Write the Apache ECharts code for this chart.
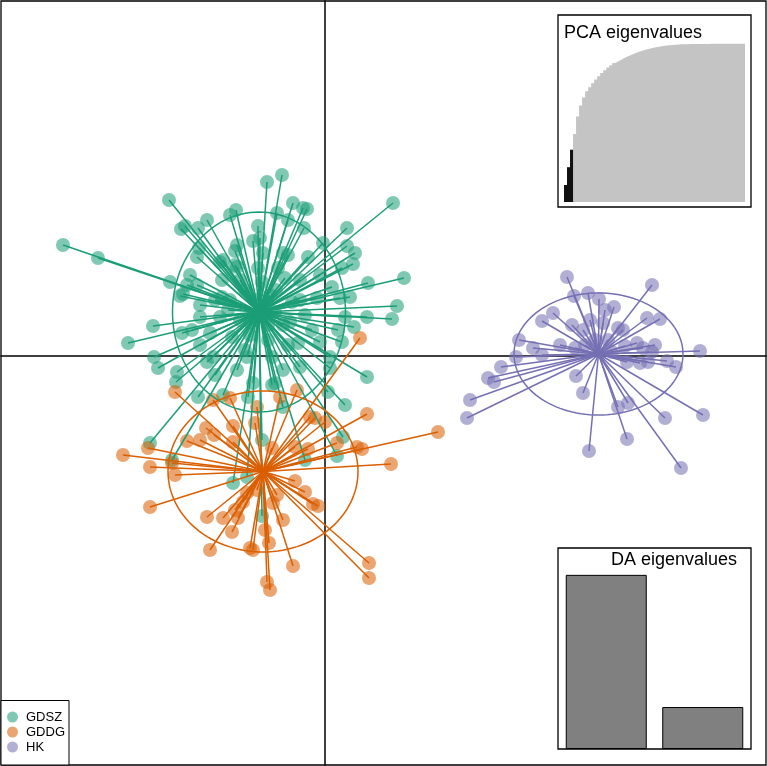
<!DOCTYPE html>
<html><head><meta charset="utf-8">
<script src="https://cdn.jsdelivr.net/npm/echarts@6/dist/echarts.min.js"></script>
<style>html,body{margin:0;padding:0;background:#fff}#c{width:767px;height:766px}</style>
</head><body><div id="c"></div>
<script>
// ---------- DATA ----------
const groups = ['GDSZ', 'GDDG', 'HK'];
// discriminant scores [LD1, LD2]
const gdsz = [
[-5.24,2.22],[-4.54,1.96],[-3.12,3.12],[-2.88,2.54],[-2.80,2.60],[-2.36,2.72],[-2.54,2.56],[-1.78,2.92],[-1.90,2.82],[-2.52,2.16],
[-2.56,1.98],[-2.04,1.92],[-1.76,2.22],[-3.10,1.48],[-2.70,1.62],[-2.76,1.42],[-2.56,1.42],[-2.84,1.24],[-1.76,1.78],[-1.80,2.10],
[-1.16,3.48],[-0.86,3.62],[1.36,3.06],[-1.34,2.60],[-0.96,2.86],[-0.64,3.06],[-0.44,2.96],[-0.36,2.94],[-0.42,2.56],[0.44,2.56],
[-0.04,2.26],[-1.44,2.30],[-1.30,2.36],[0.44,2.20],[0.60,2.06],[0.56,1.84],[0.34,1.76],[0.86,1.46],[1.58,1.56],[0.14,1.38],
[-0.34,1.98],[-0.84,2.06],[-2.10,1.88],[-0.10,1.62],[-0.74,2.72],[1.44,1.00],[1.34,0.74],[0.84,0.78],[0.40,0.78],[0.58,0.58],
[0.26,0.52],[0.34,0.28],[-0.10,0.28],[0.84,-0.42],[0.10,-0.02],[0.10,-0.24],[0.40,-0.98],[0.06,-0.72],[-0.54,0.26],[-0.50,-0.22],
[-0.84,-0.28],[-1.00,-0.54],[0.30,1.16],[0.50,1.18],[-3.94,0.26],[-3.44,0.60],[-2.86,0.46],[-2.66,0.52],[-2.90,1.20],[-2.50,1.02],
[-2.50,0.78],[-2.10,0.78],[-3.42,-0.02],[-3.34,-0.24],[-2.96,-0.32],[-2.98,-0.52],[-2.50,0.22],[-2.30,0.46],[-2.36,-0.12],[-2.24,-0.02],
[-2.20,-0.38],[-1.76,-0.28],[-1.56,-0.02],[-2.54,-0.82],[-1.24,2.06],[-1.80,1.82],[-0.74,2.02],[-2.06,1.52],[-0.50,1.52],[-0.16,1.16],
[-0.80,1.56],[-3.50,-1.74],[-3.06,-2.08],[-1.84,-2.54],[-1.26,-3.20],[-1.26,-1.68],[-1.54,-0.82],[-1.44,-0.54],[-2.04,-0.78],[-0.84,-1.02],
[-1.06,-0.58],[0.36,-1.62],[0.24,-2.00],[-0.40,-2.08],[-1.56,-2.42],
[-1.60,1.32],[-1.10,1.22],[-1.40,1.12],[-1.00,0.88],[-1.70,0.72],[-1.50,0.42],[-1.14,0.32],[-0.84,0.62],[-1.90,1.12],[-0.66,1.08],
[-1.26,1.48],[-1.60,0.12],[-1.06,-0.02],[-0.74,0.22],[-1.86,0.38],[-0.40,0.82],[-0.26,0.52],[-2.06,1.18],[-1.34,1.76],[-0.94,1.76],
[-1.94,0.92],[-1.50,0.68],[-0.70,0.68],[-1.14,0.62],[-1.70,1.52],[-0.50,1.12],[-2.20,1.12],[-0.98,1.32]
];
const gddg = [
[-3.00,-0.72],[-2.24,-0.88],[-1.90,-0.84],[-2.38,-1.44],[-2.22,-1.58],[-1.84,-1.40],[-1.84,-1.72],[-2.50,-1.68],[-2.76,-1.70],[-3.54,-1.84],
[-4.04,-1.98],[-3.50,-2.22],[-3.06,-2.14],[-3.00,-2.38],[-3.50,-3.02],[-2.36,-3.22],[-2.04,-3.24],[-1.74,-3.24],[-1.80,-3.08],[-1.64,-2.92],
[-1.56,-2.74],[-1.86,-3.52],[-2.30,-3.88],[-1.50,-3.84],[-1.44,-3.88],[-1.20,-3.48],[-1.12,-3.74],[-1.16,-4.52],[-1.10,-4.68],[-0.84,-3.28],
[-0.64,-4.20],[-0.60,-2.50],[-0.40,-2.72],[-0.24,-2.96],[-0.14,-3.00],[1.32,-2.16],[2.26,-1.52],[0.70,0.36],[0.84,-1.16],[-0.56,-0.68],
[-0.30,-1.22],[-0.20,-1.24],[0.00,-1.32],[0.24,-1.74],[0.64,-1.82],[0.74,-1.86],[-0.60,-1.82],[-0.34,-1.86],[0.88,-4.14],[0.88,-4.44],
[-1.40,-1.34],[-1.36,-1.02],[-1.06,-1.84],[-1.36,-2.68],[-1.04,-2.94],[-0.96,-2.78],[-0.90,-0.82]
];
const hk = [
[4.84,1.58],[4.98,1.20],[5.26,1.26],[4.56,0.86],[4.34,0.70],[4.94,0.62],[5.16,0.52],[3.88,0.32],[4.16,0.16],[4.34,0.02],
[3.82,-0.02],[3.52,-0.22],[3.26,-0.44],[3.38,-0.52],[2.90,-0.88],[2.84,-1.24],[5.02,-0.40],[5.16,-0.74],[5.28,-1.90],[5.00,0.16],
[6.54,1.42],[5.48,1.14],[5.78,0.98],[6.44,0.76],[6.70,0.74],[5.56,0.66],[5.86,0.56],[5.96,0.52],[6.00,0.20],[6.24,0.26],
[6.36,0.16],[6.60,0.22],[6.54,0.08],[7.50,0.10],[6.04,-0.12],[6.30,-0.14],[6.46,-0.12],[6.84,-0.10],[7.02,-0.22],[5.86,-1.02],
[6.06,-0.94],[6.80,-1.24],[7.56,-1.18],[6.04,-1.66],[7.12,-2.24],[5.30,0.72],[5.66,0.32],[5.20,0.22],[5.74,0.08],[5.40,0.32],
[4.70,0.22],[5.60,0.92]
];
// group centres and ellipse half-axes (LD units)
const centerLD1 = [-1.32, -1.24, 5.47];
const centerLD2 = [0.88, -2.31, 0.04];
const ellipseR1 = [1.73, 1.90, 1.69];
const ellipseR2 = [2.00, 1.61, 1.22];
// PCA cumulative variance (%) and number of retained PCs
const pcaCumVar = [10.8,22,33,43,54,61,66,70,72.5,75,77.5,79.5,81.5,83.3,85,86.5,87.8,89,90,91,
92,92.8,93.6,94.3,95,95.6,96.2,96.7,97.2,97.6,98,98.3,98.6,98.9,99.1,99.3,99.45,99.55,99.65,99.72,
99.78,99.83,99.87,99.9,99.92,99.94,99.95,99.96,99.97,99.98,99.985,99.99,99.99,99.995,100,100,100,100,100,100];
const nPcaRetained = 3;
// DA eigenvalues
const daEig = [4.15, 1.0];

// ---------- STYLE ----------
const lineCols = ['#1b9e77', '#d95f02', '#7570b3'];
const pointCols = ['rgba(27,158,119,0.7)', 'rgba(217,95,2,0.7)', 'rgba(117,112,179,0.7)'];
const FONT = '"Liberation Sans", Arial, Helvetica, sans-serif';
const groupData = [gdsz, gddg, hk];

const series = [];
groupData.forEach((d, g) => {
  series.push({
    name: groups[g], type: 'scatter', xAxisIndex: 0, yAxisIndex: 0,
    data: d, symbol: 'circle', symbolSize: 14, z: 2,
    itemStyle: { color: pointCols[g], borderWidth: 0 }, silent: true
  });
});
groupData.forEach((d, g) => {
  series.push({
    name: groups[g] + ' star', type: 'lines', coordinateSystem: 'cartesian2d',
    xAxisIndex: 0, yAxisIndex: 0, z: 3, silent: true,
    data: d.map(p => ({ coords: [[centerLD1[g], centerLD2[g]], p] })),
    lineStyle: { color: lineCols[g], width: 1.5, opacity: 1, curveness: 0 }
  });
});
groupData.forEach((d, g) => {
  const pts = [];
  for (let i = 0; i <= 120; i++) {
    const t = i / 120 * Math.PI * 2;
    pts.push([centerLD1[g] + ellipseR1[g] * Math.cos(t), centerLD2[g] + ellipseR2[g] * Math.sin(t)]);
  }
  series.push({
    name: groups[g] + ' ellipse', type: 'line', xAxisIndex: 0, yAxisIndex: 0, z: 3,
    data: pts, showSymbol: false, symbol: 'none', silent: true,
    lineStyle: { color: lineCols[g], width: 1.5 }
  });
});
// PCA cumulative barplot drawn as contiguous step areas (bar i spans [i, i+1])
function stepData(vals) {
  const out = vals.map((v, i) => [i, v]);
  out.push([vals.length, vals[vals.length - 1]]);
  return out;
}
series.push({
  type: 'line', xAxisIndex: 2, yAxisIndex: 2, step: 'end', silent: true, z: 2,
  data: stepData(pcaCumVar), showSymbol: false, symbol: 'none',
  lineStyle: { width: 0, opacity: 0 }, areaStyle: { color: '#c4c4c4', opacity: 1, origin: 'start' }
});
series.push({
  type: 'line', xAxisIndex: 2, yAxisIndex: 2, step: 'end', silent: true, z: 3,
  data: stepData(pcaCumVar.slice(0, nPcaRetained)), showSymbol: false, symbol: 'none',
  lineStyle: { width: 0, opacity: 0 }, areaStyle: { color: '#111', opacity: 1, origin: 'start' }
});
series.push({
  type: 'bar', xAxisIndex: 3, yAxisIndex: 3, barWidth: 81, silent: true,
  data: daEig, itemStyle: { color: '#808080', borderColor: '#000', borderWidth: 1 }
});

const hiddenAxis = (gi, extra) => Object.assign({
  gridIndex: gi, show: false, axisLine: { show: false }, axisTick: { show: false },
  axisLabel: { show: false }, splitLine: { show: false }
}, extra || {});

const option = {
  animation: false,
  backgroundColor: '#fff',
  grid: [
    { left: 1, top: 1, right: 1, bottom: 1, show: true, borderColor: '#000', borderWidth: 1.3, backgroundColor: 'transparent' },
    { left: 558, top: 15, width: 193, height: 192, show: true, borderColor: '#000', borderWidth: 1.3, backgroundColor: '#fff' },
    { left: 564, top: 28, width: 181, height: 174, show: false },
    { left: 558, top: 548, width: 193, height: 201, show: true, borderColor: '#000', borderWidth: 1.3, backgroundColor: '#fff' }
  ],
  xAxis: [
    { gridIndex: 0, type: 'value', min: -6.48, max: 8.82,
      axisLine: { show: true, onZero: true, lineStyle: { color: '#000', width: 1.5 } },
      axisTick: { show: false }, axisLabel: { show: false }, splitLine: { show: false } },
    hiddenAxis(1, { type: 'value', min: 0, max: 1 }),
    hiddenAxis(2, { type: 'value', min: 0, max: pcaCumVar.length }),
    hiddenAxis(3, { type: 'category', data: daEig.map((v, i) => 'LD' + (i + 1)) })
  ],
  yAxis: [
    { gridIndex: 0, type: 'value', min: -8.18, max: 7.1,
      axisLine: { show: true, onZero: true, lineStyle: { color: '#000', width: 1.5 } },
      axisTick: { show: false }, axisLabel: { show: false }, splitLine: { show: false } },
    hiddenAxis(1, { type: 'value', min: 0, max: 1 }),
    hiddenAxis(2, { type: 'value', min: 0, max: 110 }),
    hiddenAxis(3, { type: 'value', min: 0, max: 4.79 })
  ],
  legend: {
    data: groups, orient: 'vertical', left: 1, bottom: 1,
    icon: 'circle', itemWidth: 11, itemHeight: 11, itemGap: 2,
    padding: [10, 4, 11.5, 6], borderColor: '#000', borderWidth: 1, backgroundColor: '#fff',
    textStyle: { fontFamily: FONT, fontSize: 13, color: '#000', padding: [0, 0, 0, 3] },
    selectedMode: false
  },
  graphic: [
    { type: 'text', z: 100, style: { x: 564, y: 33, text: 'PCA eigenvalues', font: '18px ' + FONT, fill: '#000', verticalAlign: 'middle' } },
    { type: 'text', z: 100, style: { x: 611, y: 560, text: 'DA eigenvalues', font: '18px ' + FONT, fill: '#000', verticalAlign: 'middle' } }
  ],
  series: series
};
const chart = echarts.init(document.getElementById('c'), null, { renderer: 'canvas' });
chart.setOption(option);
</script>
</body></html>
